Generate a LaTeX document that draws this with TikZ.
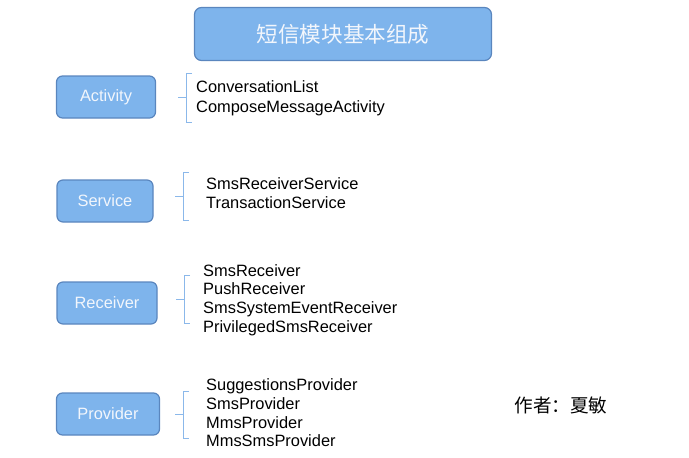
\documentclass[tikz,border=0pt]{standalone}
\usepackage{fontspec}
\setmainfont{Liberation Sans}
\newfontfamily\cjk{Noto Sans CJK SC}
\definecolor{boxfill}{HTML}{7EB4EC}
\definecolor{boxline}{HTML}{5A86BE}
\definecolor{boxtext}{HTML}{F2F6FC}
\definecolor{brkline}{HTML}{8BB8EA}
\tikzset{
  box/.style={draw=boxline, fill=boxfill, rounded corners=6pt, line width=1.2pt,
    minimum width=99pt, minimum height=42pt, inner sep=0pt, text=boxtext,
    font=\fontsize{16.4}{18.7}\selectfont},
  lst/.style={anchor=west, align=left, inner sep=0pt,
    font=\fontsize{16.4}{18.7}\selectfont},
  brk/.style={draw=brkline, line width=0.9pt}
}
\begin{document}
\begin{tikzpicture}[x=1pt,y=-1pt]
        \useasboundingbox (0,0) rectangle (689,458);
        \node[box, rounded corners=7pt, minimum width=297pt, minimum height=53pt,
          font=\cjk\fontsize{21.6}{24}\selectfont] (title) at (343,34) {短信模块基本组成};
        \node[box] (activity) at (106,97) {Activity};
        \node[box, minimum width=96pt] (service) at (105,201) {Service};
        \node[box, minimum width=100pt] (receiver) at (107,303) {Receiver};
        \node[box, minimum width=103pt] (provider) at (108,414) {Provider};
        \node[lst, font=\fontsize{16.4}{19.6}\selectfont] (actlist) at (196,98.5) {ConversationList\\ComposeMessageActivity};
        \node[lst] (srvlist) at (206,193) {SmsReceiverService\\TransactionService};
        \node[lst] (rcvlist) at (203,300) {SmsReceiver\\PushReceiver\\SmsSystemEventReceiver\\PrivilegedSmsReceiver};
        \node[lst] (prvlist) at (206,413) {SuggestionsProvider\\SmsProvider\\MmsProvider\\MmsSmsProvider};
        \node[font=\cjk\fontsize{18.6}{20}\selectfont] (author) at (561,405) {作者：夏敏};
        % brackets
        \foreach \bx/\by/\bh in {186/97.5/24.5, 183/196/24, 184/299.5/24, 183/414.5/23.5}
        \draw[brk,shift={(\bx,\by)}] (6,-\bh) -- (0,-\bh) -- (0,\bh) -- (6,\bh) (0,0) -- (-8,0);
\end{tikzpicture}
\end{document}
